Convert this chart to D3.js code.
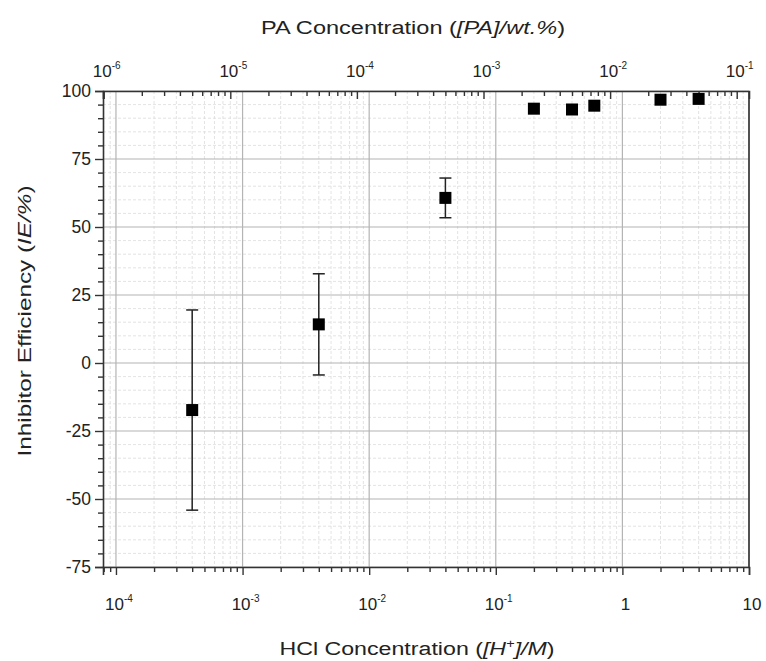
<!DOCTYPE html>
<html lang="en">
  <head>
    <meta charset="UTF-8" />
    <title>Inhibitor Efficiency</title>
    <script src="https://d3js.org/d3.v7.min.js"></script>
    <style>
      body {
        margin: 0;
        background-color: #fff;
        font-family: "Liberation Sans", Arial, sans-serif;
      }
      text {
        fill: #222;
      }
    </style>
  </head>
  <body>
    <div id="chart"></div>
    <script>
      // HCl concentration [H+]/M
      const hcl = [0.0004, 0.004, 0.04, 0.2, 0.4, 0.6, 2, 4];
      // inhibitor efficiency IE/%
      const ie = [-17.3, 14.2, 60.7, 93.5, 93.2, 94.6, 96.8, 97.1];
      // error bars (+/-), 0 = none
      const ieErr = [36.8, 18.6, 7.3, 0, 0, 0, 0, 0];

      const bottomTicks = [1e-4, 1e-3, 1e-2, 1e-1, 1, 10];
      const topTicks = [1e-6, 1e-5, 1e-4, 1e-3, 1e-2, 1e-1];
      const yTicks = [100, 75, 50, 25, 0, -25, -50, -75];
      const paPerHcl = 0.0125; // wt.% PA per M of H+

      const width = 766;
      const height = 661;
      const pLeft = 103,
        pRight = 749,
        pTop = 91,
        pBottom = 567;

      const svg = d3
        .select("#chart")
        .append("svg")
        .attr("width", width)
        .attr("height", height);

      const x = d3.scaleLog().domain([7.9e-5, 10]).range([pLeft, pRight]);
      const xTop = d3
        .scaleLog()
        .domain([7.9e-5 * paPerHcl, 10 * paPerHcl])
        .range([pLeft, pRight]);
      const y = d3.scaleLinear().domain([-75, 100]).range([pBottom, pTop]);

      // minor values
      function minorLog(scale) {
        const [a, b] = scale.domain();
        const out = [];
        for (let e = Math.floor(Math.log10(a)); e <= Math.ceil(Math.log10(b)); e++) {
          for (let m = 2; m <= 9; m++) {
            const v = m * Math.pow(10, e);
            if (v >= a && v <= b) out.push(v);
          }
        }
        return out;
      }
      const yMinor = d3.range(-75, 101, 5).filter((v) => v % 25 !== 0);

      // minor grid (dashed)
      const grid = svg.append("g");
      grid
        .selectAll(".vminor")
        .data(minorLog(x))
        .enter()
        .append("line")
        .attr("x1", (d) => x(d))
        .attr("x2", (d) => x(d))
        .attr("y1", pTop)
        .attr("y2", pBottom)
        .attr("stroke", "#dcdcdc")
        .attr("stroke-dasharray", "3,2")
        .attr("stroke-width", 0.8);
      grid
        .selectAll(".hminor")
        .data(yMinor)
        .enter()
        .append("line")
        .attr("x1", pLeft)
        .attr("x2", pRight)
        .attr("y1", (d) => y(d))
        .attr("y2", (d) => y(d))
        .attr("stroke", "#dcdcdc")
        .attr("stroke-dasharray", "3,2")
        .attr("stroke-width", 0.8);

      // major grid
      grid
        .selectAll(".vmajor")
        .data(bottomTicks)
        .enter()
        .append("line")
        .attr("x1", (d) => x(d))
        .attr("x2", (d) => x(d))
        .attr("y1", pTop)
        .attr("y2", pBottom)
        .attr("stroke", "#b4b4b4")
        .attr("stroke-width", 1.2);
      grid
        .selectAll(".hmajor")
        .data(yTicks)
        .enter()
        .append("line")
        .attr("x1", pLeft)
        .attr("x2", pRight)
        .attr("y1", (d) => y(d))
        .attr("y2", (d) => y(d))
        .attr("stroke", "#b4b4b4")
        .attr("stroke-width", 1.2);

      // axes
      const axisColor = "#333";
      svg
        .append("g")
        .attr("transform", `translate(0,${pBottom})`)
        .call(d3.axisBottom(x).tickValues(bottomTicks).tickSize(8).tickFormat(""));
      svg
        .append("g")
        .attr("transform", `translate(0,${pBottom})`)
        .call(d3.axisBottom(x).tickValues(minorLog(x)).tickSize(5).tickFormat(""))
        .select(".domain")
        .remove();

      svg
        .append("g")
        .attr("transform", `translate(0,${pTop})`)
        .call(d3.axisTop(xTop).tickValues(topTicks).tickSize(-8).tickFormat(""));
      svg
        .append("g")
        .attr("transform", `translate(0,${pTop})`)
        .call(d3.axisTop(xTop).tickValues(minorLog(xTop)).tickSize(-5).tickFormat(""))
        .select(".domain")
        .remove();

      svg
        .append("g")
        .attr("transform", `translate(${pLeft},0)`)
        .call(d3.axisLeft(y).tickValues(yTicks).tickSize(8).tickFormat(""));
      svg
        .append("g")
        .attr("transform", `translate(${pLeft},0)`)
        .call(d3.axisLeft(y).tickValues(yMinor).tickSize(5).tickFormat(""))
        .select(".domain")
        .remove();

      svg
        .append("line")
        .attr("x1", pRight)
        .attr("x2", pRight)
        .attr("y1", pTop)
        .attr("y2", pBottom)
        .attr("stroke", axisColor)
        .attr("stroke-width", 1.6);

      svg
        .selectAll(".domain")
        .attr("stroke", axisColor)
        .attr("stroke-width", 1.6);
      svg.selectAll(".tick line").attr("stroke", axisColor).attr("stroke-width", 1.4);

      // tick labels
      function powLabel(sel, v, px, py, plainOne) {
        const e = Math.round(Math.log10(v));
        const t = sel
          .append("text")
          .attr("x", px)
          .attr("y", py)
          .attr("text-anchor", "middle")
          .attr("font-size", 17);
        if (plainOne && e === 0) {
          t.text("1");
        } else if (plainOne && e === 1) {
          t.text("10");
        } else {
          t.append("tspan").text("10");
          t.append("tspan")
            .attr("font-size", 10)
            .attr("dy", -8)
            .text(e);
        }
      }
      const labels = svg.append("g");
      bottomTicks.forEach((v) => powLabel(labels, v, x(v) + 3, 610, true));
      topTicks.forEach((v) => powLabel(labels, v, xTop(v) + 3, 77, false));

      labels
        .selectAll(".ylab")
        .data(yTicks)
        .enter()
        .append("text")
        .attr("x", pLeft - 12)
        .attr("y", (d) => y(d) + 6)
        .attr("text-anchor", "end")
        .attr("font-size", 17.5)
        .text((d) => d);

      // axis titles (glyphs in the original are a bit wide, so stretch along the text)
      const tb = svg
        .append("text")
        .attr("transform", "translate(417,655) scale(1.22,1)")
        .attr("text-anchor", "middle")
        .attr("font-size", 19);
      tb.append("tspan").text("HCl Concentration (");
      tb.append("tspan").attr("font-style", "italic").text("[H");
      tb.append("tspan").attr("font-style", "italic").attr("font-size", 12).attr("dy", -7).text("+");
      tb.append("tspan").attr("font-style", "italic").attr("dy", 7).text("]/M");
      tb.append("tspan").text(")");

      const tt = svg
        .append("text")
        .attr("transform", "translate(413,34) scale(1.24,1)")
        .attr("text-anchor", "middle")
        .attr("font-size", 19);
      tt.append("tspan").text("PA Concentration (");
      tt.append("tspan").attr("font-style", "italic").text("[PA]/wt.%");
      tt.append("tspan").text(")");

      const tl = svg
        .append("text")
        .attr("transform", "translate(31,321) rotate(-90) scale(1.28,1)")
        .attr("text-anchor", "middle")
        .attr("font-size", 19);
      tl.append("tspan").text("Inhibitor Efficiency (");
      tl.append("tspan").attr("font-style", "italic").text("IE/%");
      tl.append("tspan").text(")");

      // data
      const pts = hcl.map((h, i) => ({ h: h, v: ie[i], e: ieErr[i] }));
      const eb = svg
        .append("g")
        .selectAll("g")
        .data(pts.filter((d) => d.e > 0))
        .enter()
        .append("g")
        .attr("stroke", "#222")
        .attr("stroke-width", 1.5);
      eb.append("line")
        .attr("x1", (d) => x(d.h))
        .attr("x2", (d) => x(d.h))
        .attr("y1", (d) => y(d.v + d.e))
        .attr("y2", (d) => y(d.v - d.e));
      [1, -1].forEach((s) => {
        eb.append("line")
          .attr("x1", (d) => x(d.h) - 6)
          .attr("x2", (d) => x(d.h) + 6)
          .attr("y1", (d) => y(d.v + s * d.e))
          .attr("y2", (d) => y(d.v + s * d.e));
      });

      svg
        .append("g")
        .selectAll("rect")
        .data(pts)
        .enter()
        .append("rect")
        .attr("x", (d) => x(d.h) - 6)
        .attr("y", (d) => y(d.v) - 6)
        .attr("width", 12)
        .attr("height", 12)
        .attr("fill", "#000");
    </script>
  </body>
</html>
